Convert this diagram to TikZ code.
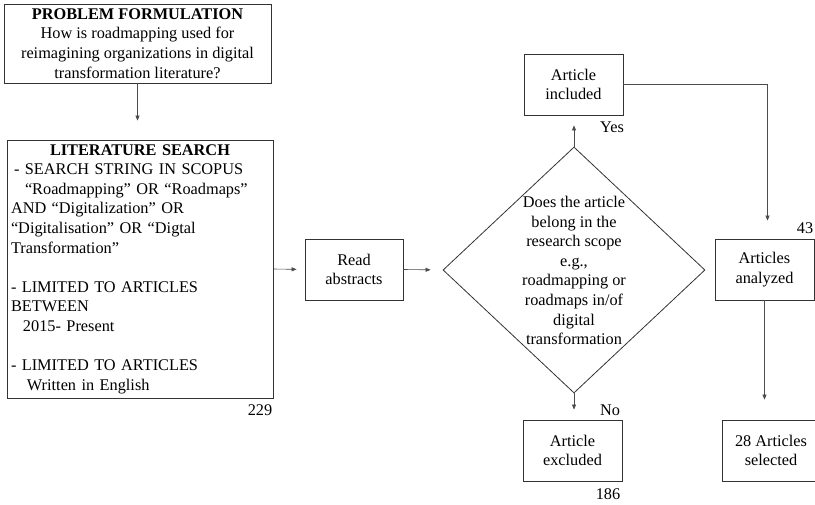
\documentclass[tikz,border=0pt]{standalone}
\usepackage{fontspec}
\setmainfont{Liberation Serif}
\usetikzlibrary{shapes,arrows,positioning,arrows.meta}

\begin{document}
\begin{tikzpicture}[x=1pt,y=-1pt,
    font=\fontsize{16.3}{19.6}\selectfont,
    stepbox/.style={draw=black!80, line width=0.8pt, inner sep=2pt, align=center},
    flow/.style={draw=black!70, line width=0.6pt, -{Triangle[length=5pt,width=4pt]}}]
    \useasboundingbox (0,0) rectangle (815,505);

    % Problem formulation
    \node[stepbox, minimum width=267pt, minimum height=79pt] (prob) at (137.5,43.5)
        {\textbf{PROBLEM FORMULATION}\\ How is roadmapping used for\\ reimagining organizations in digital\\ transformation literature?};

    % Literature search
    \node[stepbox, align=left, inner sep=4pt, text width=258pt, minimum height=258pt] (lit) at (140,269)
        {\makebox[\linewidth]{\textbf{LITERATURE SEARCH}}\\
         \hspace*{3pt}- SEARCH STRING IN SCOPUS\\
         \hspace*{14pt}“Roadmapping” OR “Roadmaps”\\
         AND “Digitalization” OR\\
         “Digitalisation” OR “Digtal\\
         Transformation”\\[19.6pt]
         - LIMITED TO ARTICLES\\
         BETWEEN\\
         \hspace*{12pt}2015- Present\\[19.6pt]
         - LIMITED TO ARTICLES\\
         \hspace*{16pt}Written in English};
    \node (n229) at (260,410) {229};

    % Screening
    \node[stepbox, minimum width=98pt, minimum height=61pt] (read) at (354,269.5) {Read\\ abstracts};
    \node[draw=black!80, line width=0.8pt, diamond, minimum width=262pt, minimum height=246pt, inner sep=0pt] (check) at (574,270) {};
    \node[align=center] (checktext) at (574,270.5)
        {Does the article\\ belong in the\\ research scope\\ e.g.,\\ roadmapping or\\ roadmaps in/of\\ digital\\ transformation};

    % Outcomes
    \node[stepbox, minimum width=99pt, minimum height=61pt] (incl) at (573.5,84.5) {Article\\ included};
    \node[stepbox, minimum width=99pt, minimum height=61pt] (excl) at (572.5,450.5) {Article\\ excluded};
    \node[stepbox, minimum width=99pt, minimum height=61pt] (ana) at (764.5,269.5) {Articles\\ analyzed};
    \node[stepbox, minimum width=98pt, minimum height=61pt] (sel) at (771,450.5) {28 Articles\\ selected};
    \node (yes) at (612,127) {Yes};
    \node (no) at (610,410) {No};
    \node (n43) at (805,228) {43};
    \node (n186) at (608,494) {186};

    % Connectors
    \draw[flow, shorten >=19pt] (prob.south) -- (prob.south |- lit.north);
    \draw[flow, shorten >=8pt] (lit.east) -- (read.west);
    \draw[flow, shorten >=12pt] (read.east) -- (check.west);
    \draw[flow, shorten >=10pt] (check.north) -- (check.north |- incl.south);
    \draw[flow, shorten >=10pt] (check.south) -- (check.south |- excl.north);
    \draw[flow, shorten >=18pt] (incl.east) -| ([xshift=3pt]ana.north);
    \draw[flow, shorten >=20pt] (ana.south) -- (ana.south |- sel.north);
\end{tikzpicture}
\end{document}
